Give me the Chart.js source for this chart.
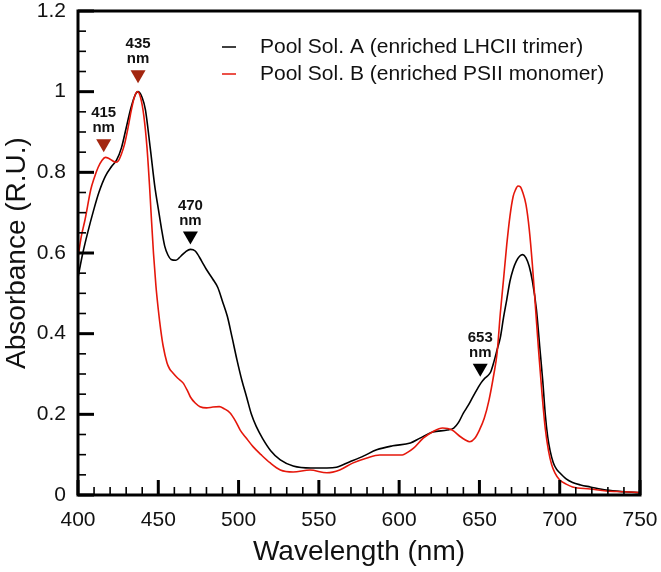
<!DOCTYPE html>
<html><head><meta charset="utf-8">
<script src="https://cdn.jsdelivr.net/npm/chart.js@4/dist/chart.umd.min.js"></script>
<style>html,body{margin:0;padding:0;background:#fff}canvas{display:block}</style>
</head><body>
<canvas id="c" width="661" height="572"></canvas>
<script>
const seriesNames = ['Pool Sol. A (enriched LHCII trimer)', 'Pool Sol. B (enriched PSII monomer)'];

const wavelengthA = [400,403,406,410,413,417,421,424,427,430,433,436,437.5,440,442,445,448,450,452,454,456,458,461,464,467,470,473,477,480,484,487,490,493,496,499,502,505,508,511,515,520,526,534,545,555,561,569,578,586,596,607,613,621,630,634,637,640,643,646,649,651,653,655,657,659,661,663,665,667,669,671,673,675,677,679,681,683,685.5,687.5,689.5,691,692.5,694,696,698,700,704,708,713,719,729,740,750];
const absorbanceA = [0.54,0.60,0.65,0.71,0.75,0.79,0.815,0.83,0.86,0.91,0.96,0.995,1.0,0.985,0.955,0.86,0.76,0.71,0.66,0.617,0.595,0.584,0.582,0.592,0.603,0.609,0.605,0.58,0.559,0.535,0.515,0.48,0.443,0.39,0.335,0.285,0.243,0.2,0.17,0.14,0.11,0.087,0.072,0.067,0.067,0.069,0.082,0.097,0.112,0.122,0.129,0.141,0.156,0.161,0.166,0.18,0.203,0.222,0.244,0.265,0.278,0.288,0.295,0.305,0.33,0.36,0.39,0.44,0.484,0.53,0.56,0.58,0.592,0.596,0.588,0.567,0.53,0.46,0.37,0.28,0.2,0.145,0.11,0.08,0.064,0.055,0.04,0.031,0.025,0.02,0.012,0.008,0.006];

const wavelengthB = [400,402,404.4,408,410,412.5,415,417,419,421,423.5,425,427,429,431,433,435,437,439,441,443,444.5,445.5,447,448.5,450,451.5,453,455.4,457,459,462,465.4,468,470,473,476,480,484,488,491,494.6,498,501,505,509,514,519.5,526,534,544.5,555,563,571,580,588,596,602,605,609,615,621,627,633,638,641,644,647,650,653,656,659,661,663,665,667,669,671,672.5,674,675.5,677,679,681,683,685,687,689,691,693,695,697,700,704,708,719,729,740,750];
const absorbanceB = [0.589,0.64,0.683,0.758,0.785,0.812,0.83,0.837,0.835,0.83,0.825,0.828,0.845,0.87,0.907,0.95,0.985,1.0,0.985,0.94,0.86,0.77,0.70,0.6,0.52,0.46,0.41,0.37,0.328,0.313,0.303,0.29,0.278,0.26,0.243,0.228,0.219,0.216,0.218,0.219,0.214,0.204,0.184,0.161,0.14,0.12,0.1,0.08,0.062,0.057,0.062,0.055,0.062,0.079,0.092,0.099,0.099,0.099,0.105,0.116,0.141,0.157,0.166,0.161,0.145,0.137,0.132,0.14,0.161,0.19,0.236,0.3,0.352,0.45,0.534,0.62,0.691,0.74,0.757,0.766,0.764,0.75,0.72,0.66,0.57,0.46,0.35,0.25,0.165,0.11,0.075,0.055,0.037,0.027,0.02,0.015,0.01,0.008,0.006];

const xTickValues = [400,450,500,550,600,650,700,750];
const xTickLabels = ['400','450','500','550','600','650','700','750'];
const yTickValues = [0,0.2,0.4,0.6,0.8,1.0,1.2];
const yTickLabels = ['0','0.2','0.4','0.6','0.8','1','1.2'];

const annotationLabels = ['415','435','470','653'];
const annotationWavelength = [416,437.4,470,650.5];
const annotationTipAbs = [0.85,1.021,0.621,0.293];

const colorA = '#000000';
const colorB = '#e5170b';
const markerColors = ['#a3260f','#a3260f','#000000','#000000'];
const FONT = '"Liberation Sans", Arial, Helvetica, sans-serif';

const toXY = (xs, ys) => xs.map((v, i) => ({x: v, y: ys[i]}));

const framePlugin = {
  id: 'frame',
  afterDatasetsDraw(chart) {
    const {ctx, chartArea: {left, right, top, bottom}, scales: {x, y}} = chart;
    ctx.save();
    ctx.strokeStyle = '#000';
    for (let v = x.min; v <= x.max + 1e-9; v += 10) {
      const px = x.getPixelForValue(v);
      const major = Math.abs(v % 50) < 1e-6;
      ctx.lineWidth = major ? 3 : 1.6;
      ctx.beginPath();
      ctx.moveTo(px, bottom);
      ctx.lineTo(px, bottom - (major ? 15 : 8));
      ctx.stroke();
    }
    for (let k = 0; k <= 24; k++) {
      const v = k * 0.05;
      const py = y.getPixelForValue(v);
      const major = k % 4 === 0;
      ctx.lineWidth = major ? 3 : 1.6;
      ctx.beginPath();
      ctx.moveTo(left, py);
      ctx.lineTo(left + (major ? 16 : 8), py);
      ctx.stroke();
    }
    ctx.lineWidth = 3;
    ctx.strokeRect(left, top, right - left, bottom - top);

    ctx.font = '21px ' + FONT;
    ctx.textBaseline = 'middle';
    ctx.textAlign = 'left';
    chart.data.datasets.forEach((ds, i) => {
      const ly = 47 + i * 27;
      ctx.strokeStyle = ds.borderColor;
      ctx.lineWidth = 1.5;
      ctx.beginPath();
      ctx.moveTo(222, ly);
      ctx.lineTo(236, ly);
      ctx.stroke();
      ctx.fillStyle = '#111';
      ctx.fillText(ds.label, 260, ly);
    });

    annotationLabels.forEach((lab, i) => {
      const px = x.getPixelForValue(annotationWavelength[i]);
      const tip = y.getPixelForValue(annotationTipAbs[i]);
      ctx.fillStyle = markerColors[i];
      ctx.beginPath();
      ctx.moveTo(px, tip);
      ctx.lineTo(px - 7.5, tip - 13);
      ctx.lineTo(px + 7.5, tip - 13);
      ctx.closePath();
      ctx.fill();
      ctx.fillStyle = '#111';
      ctx.textAlign = 'center';
      ctx.font = 'bold 15px ' + FONT;
      ctx.fillText(lab, px, tip - 39);
      ctx.fillText('nm', px, tip - 24);
    });
    ctx.restore();
  }
};

new Chart(document.getElementById('c'), {
  type: 'line',
  data: {
    datasets: [
      {label: seriesNames[0], data: toXY(wavelengthA, absorbanceA), borderColor: colorA, borderWidth: 1.6, pointRadius: 0, cubicInterpolationMode: 'monotone', fill: false, order: 1},
      {label: seriesNames[1], data: toXY(wavelengthB, absorbanceB), borderColor: colorB, borderWidth: 1.6, pointRadius: 0, cubicInterpolationMode: 'monotone', fill: false, order: 0}
    ]
  },
  options: {
    responsive: false,
    animation: false,
    devicePixelRatio: 1,
    layout: {padding: {top: 11, right: 21, left: 0, bottom: 0}},
    plugins: {legend: {display: false}, tooltip: {enabled: false}},
    scales: {
      x: {
        type: 'linear', min: 400, max: 750,
        grid: {display: false, drawTicks: false},
        border: {display: false},
        afterBuildTicks: s => { s.ticks = xTickValues.map(v => ({value: v})); },
        afterFit: s => { s.height = 77; s.paddingLeft = 0; s.paddingRight = 0; },
        ticks: {color: '#111', padding: 13, maxRotation: 0, font: {family: FONT, size: 21}, callback: (v, i) => xTickLabels[i]},
        title: {display: true, text: 'Wavelength (nm)', color: '#111', font: {family: FONT, size: 28}, padding: {top: 0, bottom: 3}}
      },
      y: {
        type: 'linear', min: 0, max: 1.2,
        grid: {display: false, drawTicks: false},
        border: {display: false},
        afterBuildTicks: s => { s.ticks = yTickValues.map(v => ({value: v})); },
        afterFit: s => { s.width = 78; s.paddingTop = 0; s.paddingBottom = 0; },
        ticks: {color: '#111', padding: 12, font: {family: FONT, size: 21}, callback: (v, i) => yTickLabels[i]},
        title: {display: true, text: 'Absorbance (R.U.)', color: '#111', font: {family: FONT, size: 28}, padding: {top: 0, bottom: 0}}
      }
    }
  },
  plugins: [framePlugin]
});
</script>
</body></html>
